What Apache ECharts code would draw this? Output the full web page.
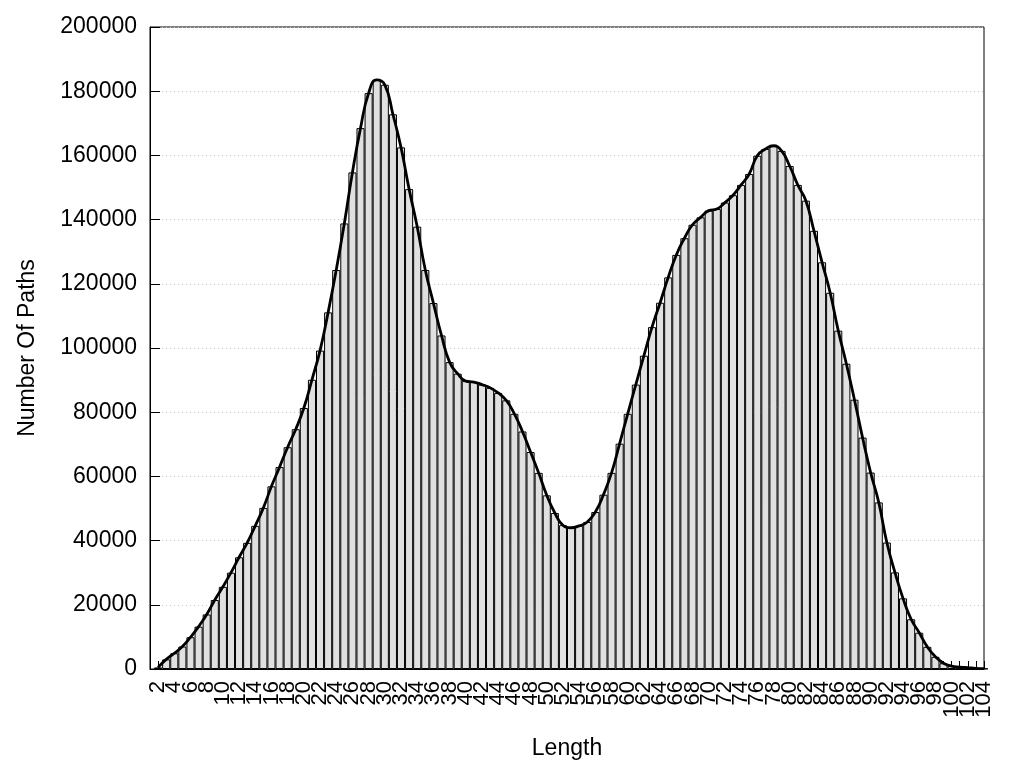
<!DOCTYPE html>
<html>
<head>
<meta charset="utf-8">
<script src="https://cdn.jsdelivr.net/npm/echarts@6/dist/echarts.min.js"></script>
<style>
html,body{margin:0;padding:0;background:#fff;}
#chart{width:1024px;height:768px;}
</style>
</head>
<body>
<div id="chart"></div>
<script>
// Path lengths (x) and number of paths (y)
var lengths = [2,3,4,5,6,7,8,9,10,11,12,13,14,15,16,17,18,19,20,21,22,23,24,25,26,27,28,29,30,31,32,33,34,35,36,37,38,39,40,41,42,43,44,45,46,47,48,49,50,51,52,53,54,55,56,57,58,59,60,61,62,63,64,65,66,67,68,69,70,71,72,73,74,75,76,77,78,79,80,81,82,83,84,85,86,87,88,89,90,91,92,93,94,95,96,97,98,99,100,101,102,103,104];
var pathCounts = [500,3000,4900,7000,9900,13200,17000,21500,25600,30000,34800,39300,44600,50200,56900,62900,69100,74700,81300,90100,99200,111100,124300,138800,154700,168500,179400,183500,182000,172800,162500,149500,137800,124300,114000,103900,95600,92000,89700,89400,88600,87600,86000,83700,79500,74000,67600,61100,54100,48600,44800,44000,44600,45800,48900,54300,61100,70200,79500,88600,97600,106500,114100,122000,129000,134200,138400,140700,142800,143300,145300,147600,150800,154200,159900,162000,163000,161400,156700,150800,145900,136500,126700,117200,105400,95100,83900,72100,61200,51900,39400,30100,22000,15500,11300,6900,3800,1800,900,600,400,200,100];
var xTitle = "Length";
var yTitle = "Number Of Paths";

var pairs = lengths.map(function(x, i){ return [x, pathCounts[i]]; });

var chart = echarts.init(document.getElementById('chart'), null, {renderer:'canvas'});
var font = "'Liberation Sans', Arial, sans-serif";
chart.setOption({
  animation: false,
  backgroundColor: '#ffffff',
  grid: {left:150, right:40, top:27, bottom:99, show:true, borderColor:'#000', borderWidth:1, backgroundColor:'transparent'},
  xAxis: {
    type: 'value', min: 1, max: 104, interval: 1,
    name: xTitle, nameLocation: 'middle', nameGap: 68,
    nameTextStyle: {fontFamily: font, fontSize: 23, color: '#000'},
    axisLine: {show: true, lineStyle: {color: '#000', width: 1}},
    axisTick: {show: true, inside: true, length: 8, lineStyle: {color: '#000'}},
    axisLabel: {rotate: 90, margin: 12, fontFamily: font, fontSize: 22, color: '#000',
      formatter: function(v){ return (v % 2 === 0) ? String(v) : ''; }},
    splitLine: {show: false}
  },
  yAxis: {
    type: 'value', min: 0, max: 200000, interval: 20000,
    name: yTitle, nameLocation: 'middle', nameGap: 111,
    nameTextStyle: {fontFamily: font, fontSize: 23, color: '#000'},
    axisLine: {show: true, lineStyle: {color: '#000', width: 1}},
    axisTick: {show: true, inside: true, length: 10, lineStyle: {color: '#000'}},
    axisLabel: {margin: 13, fontFamily: font, fontSize: 23, color: '#000',
      formatter: function(v){ return String(v); }},
    splitLine: {show: true, lineStyle: {color: '#c8c8c8', type: [1, 3], width: 1}}
  },
  series: [
    {
      type: 'bar', data: pairs, barCategoryGap: '0%', barGap: '0%',
      itemStyle: {color: '#e0e0e0', borderColor: '#000', borderWidth: 1},
      z: 2
    },
    {
      type: 'line', data: pairs, smooth: true, symbol: 'none',
      lineStyle: {color: '#000', width: 2.8},
      z: 3
    }
  ]
});
</script>
</body>
</html>
